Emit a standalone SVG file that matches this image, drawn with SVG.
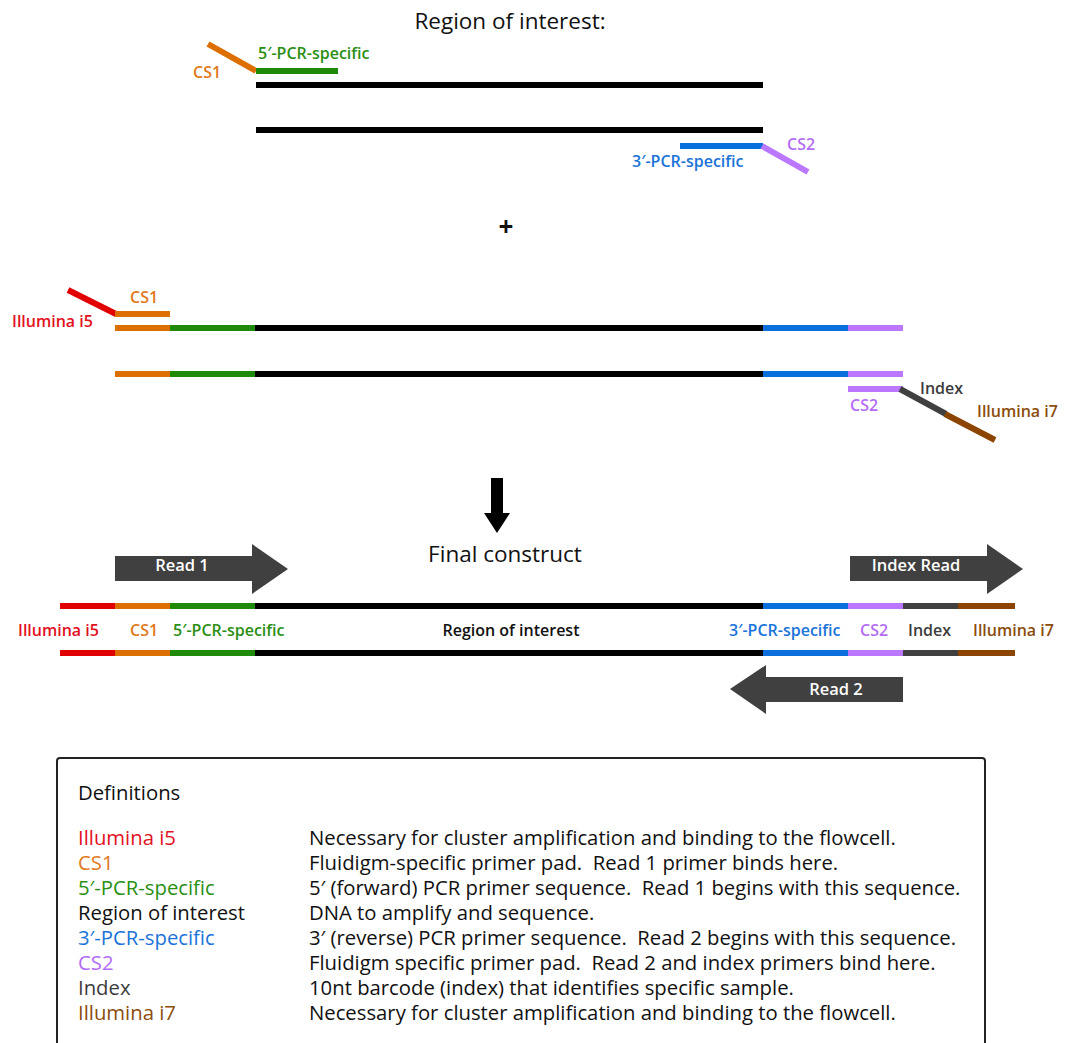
<svg xmlns="http://www.w3.org/2000/svg" width="1067" height="1043" viewBox="0 0 1067 1043">
<style>
text{font-family:"Open Sans","Noto Sans","DejaVu Sans",sans-serif}
.lbl{font-size:16px;font-weight:600}
.big{font-size:22.5px;fill:#111}
.def{font-size:20.3px}
.w{fill:#fff;font-size:16.5px;font-weight:600}
.s{stroke-width:6;fill:none}
.red{stroke:#e00000}.ora{stroke:#dd6e00}.grn{stroke:#1f8a0a}.blk{stroke:#000}.blu{stroke:#0a6fdc}.pur{stroke:#bb77ff}.gry{stroke:#404040}.brn{stroke:#8b4500}
.tred{fill:#e3101e}.tora{fill:#e0791a}.tgrn{fill:#2a8f14}.tblk{fill:#111}.tblu{fill:#1a73d9}.tpur{fill:#b46cf4}.tgry{fill:#3c3c3c}.tbrn{fill:#8b4d0c}
.arr{fill:#404040}
</style>
<rect width="1067" height="1043" fill="#fff"/>

<g id="top-section">
<text class="big" x="510" y="29" text-anchor="middle">Region of interest:</text>
<line class="s ora" x1="208" y1="44" x2="256" y2="71" stroke-width="5"/>
<line class="s grn" x1="256" y1="71" x2="338" y2="71" stroke-width="5"/>
<line class="s blk" x1="256" y1="85" x2="763" y2="85"/>
<line class="s blk" x1="256" y1="130" x2="763" y2="130"/>
<line class="s blu" x1="680" y1="146" x2="763" y2="146" stroke-width="5"/>
<line class="s pur" x1="762" y1="146" x2="808" y2="172" stroke-width="5"/>
<text class="lbl tgrn" x="258" y="59">5′-PCR-specific</text>
<text class="lbl tora" x="193" y="78">CS1</text>
<text class="lbl tpur" x="787" y="150">CS2</text>
<text class="lbl tblu" x="632" y="167">3′-PCR-specific</text>
</g>

<g id="plus"><text x="506" y="236" text-anchor="middle" font-size="26" font-weight="700" fill="#111">+</text></g>

<g id="middle-section">
<line class="s red" x1="68" y1="290" x2="116" y2="314" stroke-width="5"/>
<line class="s ora" x1="115" y1="314" x2="170" y2="314" stroke-width="5"/>
<text class="lbl tora" x="130" y="303">CS1</text>
<text class="lbl tred" x="12" y="327">Illumina i5</text>
<line class="s ora" x1="115" y1="328" x2="170" y2="328"/>
<line class="s grn" x1="170" y1="328" x2="255" y2="328"/>
<line class="s blk" x1="255" y1="328" x2="763" y2="328"/>
<line class="s blu" x1="763" y1="328" x2="848" y2="328"/>
<line class="s pur" x1="848" y1="328" x2="903" y2="328"/>
<line class="s ora" x1="115" y1="374" x2="170" y2="374"/>
<line class="s grn" x1="170" y1="374" x2="255" y2="374"/>
<line class="s blk" x1="255" y1="374" x2="763" y2="374"/>
<line class="s blu" x1="763" y1="374" x2="848" y2="374"/>
<line class="s pur" x1="848" y1="374" x2="903" y2="374"/>
<line class="s pur" x1="848" y1="389" x2="903" y2="389" stroke-width="5"/>
<line class="s gry" x1="900" y1="389" x2="946" y2="414" stroke-width="6"/>
<line class="s brn" x1="945" y1="414" x2="995" y2="440" stroke-width="6"/>
<text class="lbl tgry" x="920" y="394">Index</text>
<text class="lbl tpur" x="850" y="411">CS2</text>
<text class="lbl tbrn" x="977" y="417">Illumina i7</text>
</g>

<g id="down-arrow">
<polygon fill="#000" points="491,478 503,478 503,513 510,513 497,533 484,513 491,513"/>
</g>

<g id="final-construct">
<text class="big" x="505" y="562" text-anchor="middle">Final construct</text>
<polygon class="arr" points="115,556 252,556 252,544 288,569 252,594 252,581 115,581"/>
<text class="w" x="182" y="571" text-anchor="middle">Read 1</text>
<polygon class="arr" points="850,556 987,556 987,544 1023,569 987,594 987,581 850,581"/>
<text class="w" x="916" y="571" text-anchor="middle">Index Read</text>
<polygon class="arr" points="903,677 766,677 766,665 730,689 766,714 766,702 903,702"/>
<text class="w" x="836" y="695" text-anchor="middle">Read 2</text>

<line class="s red" x1="60" y1="606" x2="115" y2="606"/>
<line class="s ora" x1="115" y1="606" x2="170" y2="606"/>
<line class="s grn" x1="170" y1="606" x2="255" y2="606"/>
<line class="s blk" x1="255" y1="606" x2="763" y2="606"/>
<line class="s blu" x1="763" y1="606" x2="848" y2="606"/>
<line class="s pur" x1="848" y1="606" x2="903" y2="606"/>
<line class="s gry" x1="903" y1="606" x2="958" y2="606"/>
<line class="s brn" x1="958" y1="606" x2="1015" y2="606"/>
<line class="s red" x1="60" y1="653" x2="115" y2="653"/>
<line class="s ora" x1="115" y1="653" x2="170" y2="653"/>
<line class="s grn" x1="170" y1="653" x2="255" y2="653"/>
<line class="s blk" x1="255" y1="653" x2="763" y2="653"/>
<line class="s blu" x1="763" y1="653" x2="848" y2="653"/>
<line class="s pur" x1="848" y1="653" x2="903" y2="653"/>
<line class="s gry" x1="903" y1="653" x2="958" y2="653"/>
<line class="s brn" x1="958" y1="653" x2="1015" y2="653"/>

<text class="lbl tred" x="18" y="636">Illumina i5</text>
<text class="lbl tora" x="130" y="636">CS1</text>
<text class="lbl tgrn" x="173" y="636">5′-PCR-specific</text>
<text class="lbl tblk" x="511" y="636" text-anchor="middle">Region of interest</text>
<text class="lbl tblu" x="729" y="636">3′-PCR-specific</text>
<text class="lbl tpur" x="860" y="636">CS2</text>
<text class="lbl tgry" x="908" y="636">Index</text>
<text class="lbl tbrn" x="973" y="636">Illumina i7</text>
</g>

<g id="definitions">
<rect x="57" y="758" width="928" height="300" rx="3" fill="#fff" stroke="#222" stroke-width="2"/>
<text class="def tblk" x="78" y="800">Definitions</text>
<text class="def tred" x="78" y="845">Illumina i5</text>
<text class="def tora" x="78" y="870">CS1</text>
<text class="def tgrn" x="78" y="895">5′-PCR-specific</text>
<text class="def tblk" x="78" y="920">Region of interest</text>
<text class="def tblu" x="78" y="945">3′-PCR-specific</text>
<text class="def tpur" x="78" y="970">CS2</text>
<text class="def tgry" x="78" y="995">Index</text>
<text class="def tbrn" x="78" y="1020">Illumina i7</text>
<text class="def tblk" x="309" y="845">Necessary for cluster amplification and binding to the flowcell.</text>
<text class="def tblk" x="309" y="870" xml:space="preserve">Fluidigm-specific primer pad.  Read 1 primer binds here.</text>
<text class="def tblk" x="309" y="895" xml:space="preserve">5′ (forward) PCR primer sequence.  Read 1 begins with this sequence.</text>
<text class="def tblk" x="309" y="920">DNA to amplify and sequence.</text>
<text class="def tblk" x="309" y="945" xml:space="preserve">3′ (reverse) PCR primer sequence.  Read 2 begins with this sequence.</text>
<text class="def tblk" x="309" y="970" xml:space="preserve">Fluidigm specific primer pad.  Read 2 and index primers bind here.</text>
<text class="def tblk" x="309" y="995">10nt barcode (index) that identifies specific sample.</text>
<text class="def tblk" x="309" y="1020">Necessary for cluster amplification and binding to the flowcell.</text>
</g>
</svg>
